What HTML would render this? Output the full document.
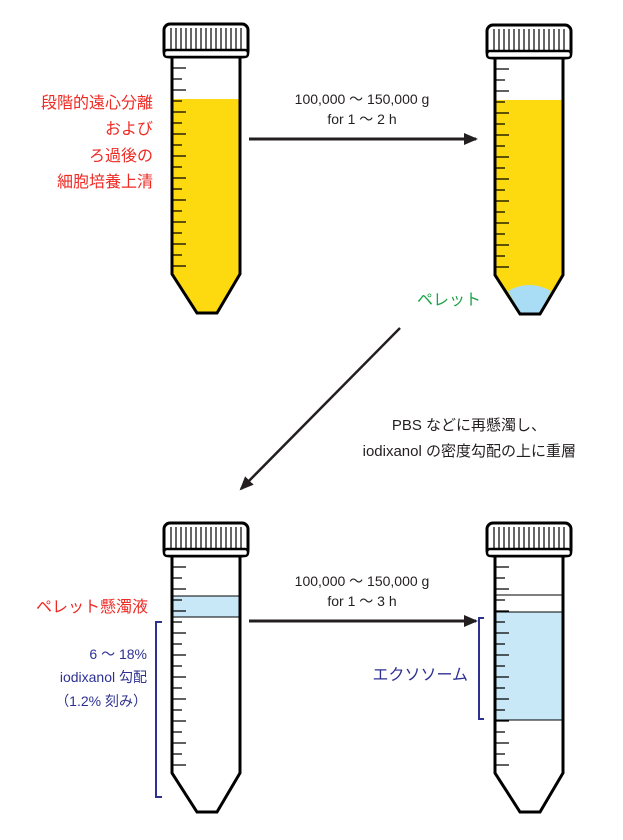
<!DOCTYPE html>
<html><head><meta charset="utf-8"><style>
body{margin:0;background:#fff;}
svg{display:block;font-family:"Liberation Sans","Noto Sans CJK JP",sans-serif;}
</style></head><body>
<svg width="623" height="840" viewBox="0 0 623 840" xmlns="http://www.w3.org/2000/svg">
<defs>
<marker id="ah" markerWidth="14" markerHeight="12" refX="12" refY="6" orient="auto" markerUnits="userSpaceOnUse">
<path d="M0,0 L14,6 L0,12 Z" fill="#231f20"/></marker>
<g id="cap">
<rect x="164" y="24" width="84" height="33" rx="6" fill="#fff" stroke="#000" stroke-width="3"/>
<path d="M171,28v22M176,28v22M181,28v22M186,28v22M191,28v22M196,28v22M201,28v22M206,28v22M211,28v22M216,28v22M221,28v22M226,28v22M231,28v22M236,28v22M241,28v22" stroke="#000" stroke-width="1.2"/>
<rect x="164" y="50" width="84" height="7" rx="3" fill="#fff" stroke="#000" stroke-width="2.5"/>
</g>
<g id="ticks" stroke="#000" stroke-width="1.3">
<path d="M173,68h13M173,79h9M173,90h13M173,101h9M173,112h13M173,123h9M173,134h13M173,145h9M173,156h13M173,167h9M173,178h13M173,189h9M173,200h13M173,211h9M173,222h13M173,233h9M173,244h13M173,255h9M173,266h13"/>
</g>
<path id="outline" d="M172,58 V274 L197,313 H217 L240,274 V58" fill="none" stroke="#000" stroke-width="3"/>
</defs>

<path d="M172,99 H240 V274 L217,313 H197 L172,274 Z" fill="#fdd910"/>
<use href="#ticks"/><use href="#outline"/><use href="#cap"/>

<g transform="translate(323,1)">
<path d="M172,99 H240 V274 L217,313 H197 L172,274 Z" fill="#fdd910"/>
<path d="M185,290 Q206,278 228,290 L217,312 H197 Z" fill="#a9dcf5"/>
<use href="#ticks"/><use href="#outline"/><use href="#cap"/>
</g>

<g transform="translate(0,499)">
<rect x="172" y="97" width="68" height="21" fill="#c8e8f8"/>
<path d="M172,97h68M172,118h68" stroke="#000" stroke-width="1"/>
<use href="#ticks"/><use href="#outline"/><use href="#cap"/>
</g>

<g transform="translate(323,499)">
<rect x="172" y="113" width="68" height="108" fill="#c8e8f8"/>
<path d="M172,96h68M172,113h68M172,221h68" stroke="#000" stroke-width="1"/>
<use href="#ticks"/><use href="#outline"/><use href="#cap"/>
</g>

<line x1="249" y1="139" x2="476" y2="139" stroke="#231f20" stroke-width="3" marker-end="url(#ah)"/>
<line x1="400" y1="328" x2="241" y2="489" stroke="#231f20" stroke-width="2.5" marker-end="url(#ah)"/>
<line x1="249" y1="621" x2="476" y2="621" stroke="#231f20" stroke-width="3" marker-end="url(#ah)"/>

<path d="M162,622 H156 V797 H162" fill="none" stroke="#2e3192" stroke-width="2"/>
<path d="M484,618 H479 V719 H484" fill="none" stroke="#2e3192" stroke-width="2"/>

<g fill="#ee2a24" font-size="16" text-anchor="end">
<text x="153" y="108">段階的遠心分離</text>
<text x="153" y="134">および</text>
<text x="153" y="161">ろ過後の</text>
<text x="153" y="187">細胞培養上清</text>
</g>
<g fill="#231f20" font-size="14" text-anchor="middle">
<text x="362" y="104">100,000 〜 150,000 g</text>
<text x="362" y="124">for 1 〜 2 h</text>
<text x="362" y="586">100,000 〜 150,000 g</text>
<text x="362" y="606">for 1 〜 3 h</text>
</g>
<text x="417" y="305" fill="#1fa34a" font-size="16">ペレット</text>
<g fill="#231f20" font-size="15" text-anchor="end">
<text x="546" y="430">PBS などに再懸濁し、</text>
<text x="576" y="456">iodixanol の密度勾配の上に重層</text>
</g>
<text x="148" y="612" fill="#ee2a24" font-size="16" text-anchor="end">ペレット懸濁液</text>
<g fill="#2e3192" font-size="14" text-anchor="end">
<text x="147" y="659">6 〜 18%</text>
<text x="147" y="682">iodixanol 勾配</text>
<text x="147" y="706">（1.2% 刻み）</text>
</g>
<text x="468" y="680" fill="#2e3192" font-size="16" text-anchor="end">エクソソーム</text>
</svg>
</body></html>
